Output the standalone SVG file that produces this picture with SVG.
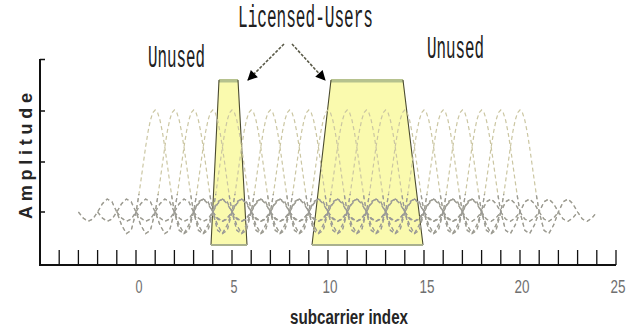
<svg xmlns="http://www.w3.org/2000/svg" xmlns:xlink="http://www.w3.org/1999/xlink" width="638" height="332" viewBox="0 0 638 332">
<style>
.mono{font-family:"Liberation Mono","DejaVu Sans Mono",monospace;font-size:31px;fill:#202020}
.tick{font-family:"Liberation Sans",Arial,sans-serif;font-size:19px;fill:#707070;text-anchor:middle}
.axlab{font-family:"Liberation Sans",Arial,sans-serif;font-weight:bold;fill:#252525}
.beige{fill:none;stroke:#cbc6a2;stroke-width:1.2;stroke-dasharray:4 3}
.gray{fill:none;stroke:#9a9a96;stroke-width:1.3;stroke-dasharray:4 3}
.trap{fill:#fafaae;stroke:none}
.band{fill:#b6c28e}
.edge{stroke:#4a4a30;stroke-width:1.1;fill:none}
.base{stroke:#a9b08e;stroke-width:2;fill:none}
.arrow{stroke:#5a5a48;stroke-width:1.6;stroke-dasharray:3 1.5;fill:none;marker-end:url(#ah)}
.axis{stroke:#111;fill:none}
</style>
<defs>
<marker id="ah" viewBox="0 0 10 10" refX="9" refY="5" markerWidth="11" markerHeight="10" markerUnits="userSpaceOnUse" orient="auto">
<path d="M0,0 L10,5 L0,10 Z" fill="#000"/>
</marker>
<path id="sinc" d="M-76.8,0 L-72,6.1 L-67.2,9.3 L-62.4,7.1 L-57.6,0 L-52.8,-8.3 L-48,-13 L-43.2,-10.2 L-38.4,0 L-33.6,13.1 L-28.8,21.6 L-24,18.4 L-19.2,0 L-16.8,-14.2 L-14.4,-30.6 L-12,-48 L-9.6,-64.9 L-7.2,-80 L-4.8,-91.8 L-2.4,-99.4 L0,-102 L2.4,-99.4 L4.8,-91.8 L7.2,-80 L9.6,-64.9 L12,-48 L14.4,-30.6 L16.8,-14.2 L19.2,0 L24,18.4 L28.8,21.6 L33.6,13.1 L38.4,0 L43.2,-10.2 L48,-13 L52.8,-8.3 L57.6,0 L62.4,7.1 L67.2,9.3 L72,6.1 L76.8,0"/>
<g id="waves">
<use xlink:href="#sinc" href="#sinc" x="155.2" y="212"/>
<use xlink:href="#sinc" href="#sinc" x="174.4" y="212"/>
<use xlink:href="#sinc" href="#sinc" x="193.6" y="212"/>
<use xlink:href="#sinc" href="#sinc" x="212.8" y="212"/>
<use xlink:href="#sinc" href="#sinc" x="232" y="212"/>
<use xlink:href="#sinc" href="#sinc" x="251.2" y="212"/>
<use xlink:href="#sinc" href="#sinc" x="270.4" y="212"/>
<use xlink:href="#sinc" href="#sinc" x="289.6" y="212"/>
<use xlink:href="#sinc" href="#sinc" x="308.8" y="212"/>
<use xlink:href="#sinc" href="#sinc" x="328" y="212"/>
<use xlink:href="#sinc" href="#sinc" x="347.2" y="212"/>
<use xlink:href="#sinc" href="#sinc" x="366.4" y="212"/>
<use xlink:href="#sinc" href="#sinc" x="385.6" y="212"/>
<use xlink:href="#sinc" href="#sinc" x="404.8" y="212"/>
<use xlink:href="#sinc" href="#sinc" x="424" y="212"/>
<use xlink:href="#sinc" href="#sinc" x="443.2" y="212"/>
<use xlink:href="#sinc" href="#sinc" x="462.4" y="212"/>
<use xlink:href="#sinc" href="#sinc" x="481.6" y="212"/>
<use xlink:href="#sinc" href="#sinc" x="500.8" y="212"/>
<use xlink:href="#sinc" href="#sinc" x="520" y="212"/>
</g>
<clipPath id="lowband"><rect x="0" y="194" width="638" height="48"/></clipPath>
</defs>
<rect width="638" height="332" fill="#fff"/>

<g id="licensed-user-1">
<polygon class="trap" points="219,79 238,79 247,245 211,245"/>
<polygon class="band" points="219,79 238,79 238.2,82.5 218.8,82.5"/>
<path class="edge" d="M219,80 L211,245 M238,80 L247,245"/>
<path class="base" d="M211,245 H247"/>
</g>
<g id="licensed-user-2">
<polygon class="trap" points="331,79 403,79 423,245 312,245"/>
<polygon class="band" points="331,79 403,79 403.4,82.5 330.6,82.5"/>
<path class="edge" d="M331,80 L312,245 M403,80 L423,245"/>
<path class="base" d="M312,245 H423"/>
</g>

<g id="subcarriers">
<use xlink:href="#waves" href="#waves" class="beige"/>
<use xlink:href="#waves" href="#waves" class="gray" clip-path="url(#lowband)"/>
</g>

<g id="axes">
<path class="axis" stroke-width="2" d="M40,59 V265 H616"/>
<path class="axis" stroke-width="1.5" d="M40,59.5 H45 M40,111 H45 M40,162 H45 M40,212 H45"/>
<path class="axis" stroke-width="1.3" d="M59.2,250V265 M78.4,250V265 M97.6,250V265 M116.8,250V265 M136,250V265 M155.2,250V265 M174.4,250V265 M193.6,250V265 M212.8,250V265 M232,250V265 M251.2,250V265 M270.4,250V265 M289.6,250V265 M308.8,250V265 M328,250V265 M347.2,250V265 M366.4,250V265 M385.6,250V265 M404.8,250V265 M424,250V265 M443.2,250V265 M462.4,250V265 M481.6,250V265 M500.8,250V265 M520,250V265 M539.2,250V265 M558.4,250V265 M577.6,250V265 M596.8,250V265 M616,250V265"/>
<text class="tick" x="139" y="293" textLength="7" lengthAdjust="spacingAndGlyphs">0</text>
<text class="tick" x="234" y="293" textLength="7" lengthAdjust="spacingAndGlyphs">5</text>
<text class="tick" x="330" y="293" textLength="15" lengthAdjust="spacingAndGlyphs">10</text>
<text class="tick" x="427" y="293" textLength="15" lengthAdjust="spacingAndGlyphs">15</text>
<text class="tick" x="522" y="293" textLength="15" lengthAdjust="spacingAndGlyphs">20</text>
<text class="tick" x="618" y="293" textLength="15" lengthAdjust="spacingAndGlyphs">25</text>
<text class="axlab" x="290" y="324" font-size="20" textLength="118" lengthAdjust="spacingAndGlyphs">subcarrier index</text>
<text class="axlab" transform="translate(32,156) rotate(-90)" x="-63" y="0" font-size="18" textLength="126">Amplitude</text>
</g>

<g id="label-licensed-users">
<text class="mono" x="238" y="27" textLength="135" lengthAdjust="spacingAndGlyphs">Licensed-Users</text>
</g>
<g id="label-unused-left">
<text class="mono" x="148" y="67" textLength="57" lengthAdjust="spacingAndGlyphs">Unused</text>
</g>
<g id="label-unused-right">
<text class="mono" x="427" y="58" textLength="57" lengthAdjust="spacingAndGlyphs">Unused</text>
</g>

<g id="connectors">
<path class="arrow" d="M284,44 L248,80"/>
<path class="arrow" d="M292,44 L325,80"/>
</g>
</svg>
